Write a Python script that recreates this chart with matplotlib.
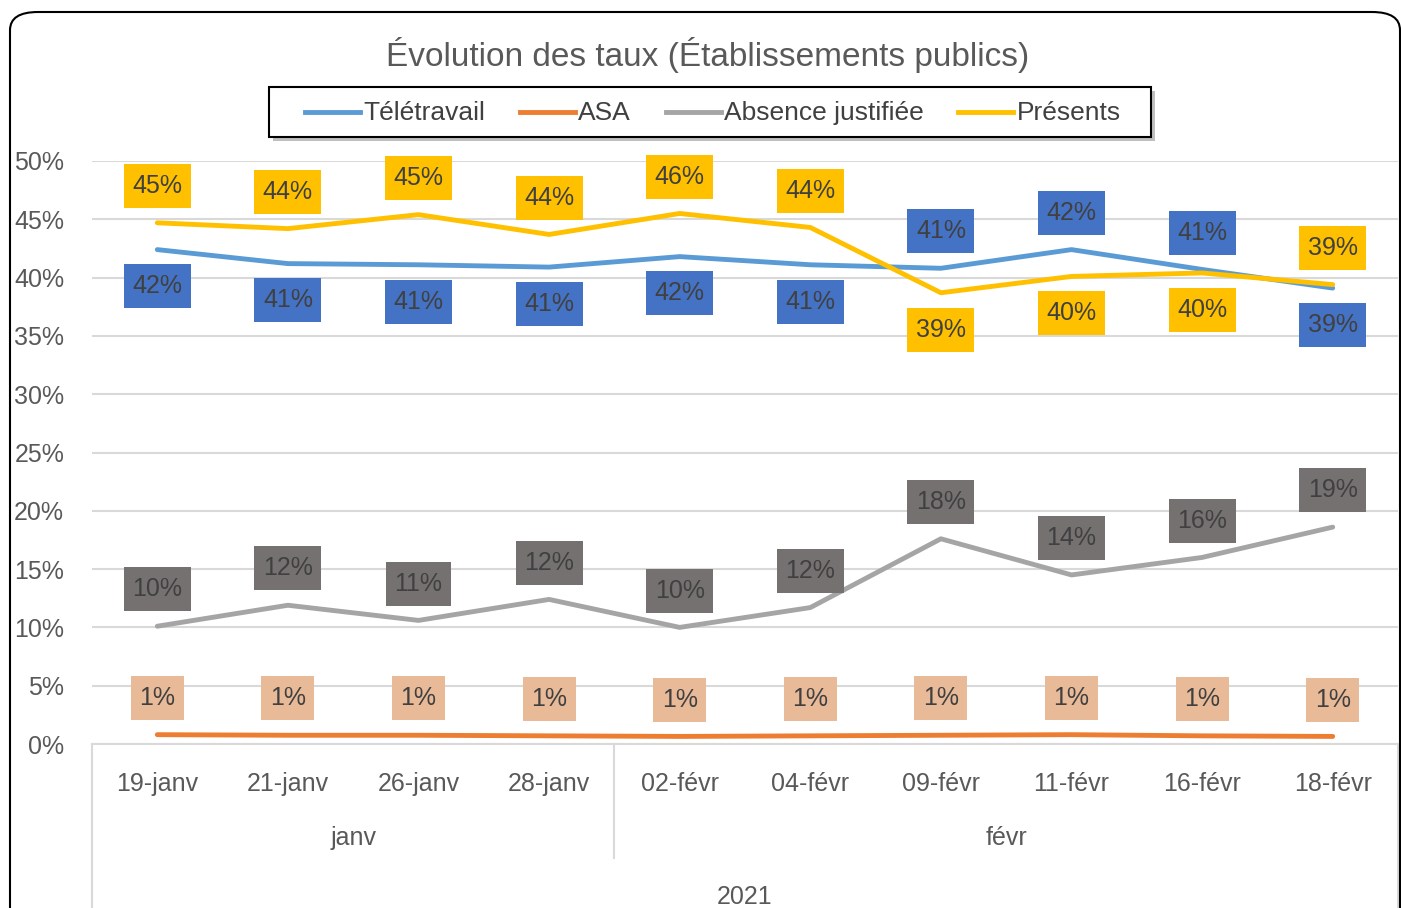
import matplotlib.pyplot as plt
from matplotlib.patches import FancyBboxPatch, Rectangle
from matplotlib.lines import Line2D
from matplotlib.path import Path
from matplotlib.ticker import PercentFormatter

plt.rcParams['font.family'] = ['Liberation Sans', 'DejaVu Sans']

dates = ['19-janv', '21-janv', '26-janv', '28-janv', '02-févr',
         '04-févr', '09-févr', '11-févr', '16-févr', '18-févr']
months = ['janv', 'févr']
month_counts = [4, 6]
year = '2021'

teletravail = [42.4, 41.2, 41.1, 40.9, 41.8, 41.1, 40.8, 42.4, 40.7, 39.1]
asa = [0.8, 0.75, 0.75, 0.7, 0.65, 0.7, 0.75, 0.8, 0.7, 0.65]
absence = [10.1, 11.9, 10.6, 12.4, 10.0, 11.7, 17.6, 14.5, 16.0, 18.6]
presents = [44.7, 44.2, 45.4, 43.7, 45.5, 44.3, 38.7, 40.1, 40.4, 39.4]

# +1 = label above the point, -1 = below
pos_tele = [-1, -1, -1, -1, -1, -1, 1, 1, 1, -1]
pos_pres = [1, 1, 1, 1, 1, 1, -1, -1, -1, 1]
pos_abs = [1] * 10
pos_asa = [1] * 10

W, H = 1401, 908
fig = plt.figure(figsize=(W / 100, H / 100), dpi=100)

def px(xp, yp):
    # figure pixel (from top-left) -> figure fraction
    return xp / W, 1 - yp / H

def label_box(x0, y0, width, height, mutation_size):
    # excel-like label box: fixed height, text width + padding
    cx, cy = x0 + width / 2, y0 + height / 2
    hw, hh = width / 2 + 8.5, 22
    return Path([(cx - hw, cy - hh), (cx + hw, cy - hh), (cx + hw, cy + hh),
                 (cx - hw, cy + hh), (cx - hw, cy - hh)], closed=True)

# rounded chart border
fig.patches.append(FancyBboxPatch((10 / W, -0.05), 1390 / W, 1 - 12 / H + 0.05,
                                  boxstyle='round,pad=0,rounding_size=0.02',
                                  transform=fig.transFigure, fill=False,
                                  edgecolor='black', linewidth=1.5))

ax = fig.add_axes([92 / W, (H - 744) / H, (1398 - 92) / W, (744 - 161) / H])
x = list(range(len(dates)))

series = [
    ('Télétravail', teletravail, '#5B9BD5', '#4472C4', pos_tele),
    ('ASA', asa, '#ED7D31', '#E8BA98', pos_asa),
    ('Absence justifiée', absence, '#A5A5A5', '#767171', pos_abs),
    ('Présents', presents, '#FFC000', '#FFC000', pos_pres),
]

for name, vals, col, boxcol, pos in series:
    ax.plot(x, vals, color=col, linewidth=3.5, solid_capstyle='round', label=name, zorder=3)
    for xi, v, p in zip(x, vals, pos):
        ax.annotate('%d%%' % round(v), (xi, v), xytext=(0, 26.5 * p), textcoords='offset points',
                    ha='center', va='center', fontsize=18, color='#404040', zorder=5,
                    bbox=dict(boxstyle=label_box, facecolor=boxcol, edgecolor='none'))

ax.set_xlim(-0.5, 9.5)
ax.set_ylim(0, 50)
ax.set_yticks(range(0, 51, 5))
ax.yaxis.set_major_formatter(PercentFormatter(decimals=0))
ax.grid(axis='y', color='#D9D9D9', linewidth=1.5)
ax.set_axisbelow(True)
for s in ['top', 'right', 'left']:
    ax.spines[s].set_visible(False)
ax.spines['bottom'].set_color('#D9D9D9')
ax.spines['bottom'].set_linewidth(1.5)
ax.tick_params(axis='y', length=0, labelsize=18, labelcolor='#595959', pad=20)
ax.tick_params(axis='x', length=0, labelsize=18, labelcolor='#595959', pad=20)
ax.set_xticks(x)
ax.set_xticklabels(dates)

# multi-level category axis
sep = '#D9D9D9'
trans = ax.get_xaxis_transform()
ax.plot([-0.5, -0.5], [0, -0.35], color=sep, lw=1.5, transform=trans, clip_on=False)
ax.plot([9.5, 9.5], [0, -0.35], color=sep, lw=1.5, transform=trans, clip_on=False)
start = -0.5
for m, n in zip(months, month_counts):
    ax.text(start + n / 2, -0.162, m, transform=trans, ha='center', va='center',
            fontsize=18, color='#595959')
    start += n
    if start < 9.5:
        ax.plot([start, start], [0, -0.195], color=sep, lw=1.5, transform=trans, clip_on=False)
ax.text(4.5, -0.262, year, transform=trans, ha='center', va='center',
        fontsize=18, color='#595959')

fig.text(*px(708, 55), 'Évolution des taux (Établissements publics)', ha='center',
         va='center', fontsize=24, color='#595959')

# legend drawn by hand so the box matches the reference padding
renderer = fig.canvas.get_renderer()
lx = 305
ly = 112
for name, _, col, _, _ in series:
    fig.add_artist(Line2D([lx / W, (lx + 55) / W], [1 - ly / H] * 2, color=col, lw=3.5,
                          transform=fig.transFigure))
    t = fig.text(*px(lx + 58, ly + 1), name, ha='left', va='center', fontsize=19,
                 color='#404040')
    w = t.get_window_extent(renderer).width
    lx = lx + 58 + w + 35
right = lx - 35 + 30
fig.patches.append(Rectangle(px(273, 141), (right - 269) / W, 50 / H, transform=fig.transFigure,
                             facecolor='#BFBFBF', edgecolor='none', zorder=0))
fig.patches.append(Rectangle(px(269, 137), (right - 269) / W, 50 / H, transform=fig.transFigure,
                             facecolor='white', edgecolor='black', lw=1.5, zorder=1))

fig.savefig('out.png', dpi=100)
